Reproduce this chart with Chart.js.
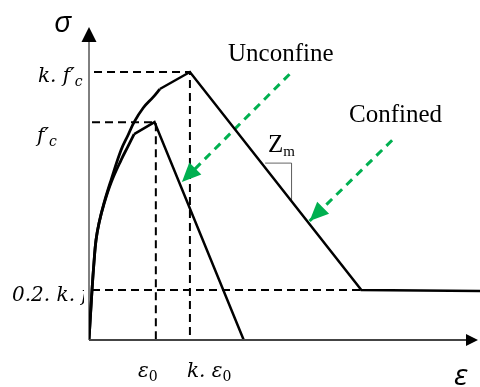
<!DOCTYPE html>
<html>
<head>
<meta charset="utf-8">
<script src="https://cdn.jsdelivr.net/npm/chart.js@4.4.1/dist/chart.umd.min.js"></script>
<style>
  html, body { margin: 0; padding: 0; background: #fff; }
  #wrap { width: 480px; height: 387px; position: relative; }
</style>
</head>
<body>
<div id="wrap"><canvas id="chart"></canvas></div>
<script>
// strain in per mille, stress as a fraction of f'c
const eps0 = 2.0;
const kEps0 = 3.02;
const fc = 1.0;
const kFc = 1.23;
const residual = 0.229;

const confinedRiseX = [0, 0.09, 0.15, 0.21, 0.30, 0.45, 0.66, 0.96, 1.17, 1.35, 1.62, 1.92, 2.12];
const confinedRiseY = [0, 0.229, 0.358, 0.459, 0.537, 0.629, 0.734, 0.872, 0.941, 1.0, 1.065, 1.115, 1.152];
const confinedFallX = [2.12, kEps0, 8.15, 11.7];
const confinedFallY = [1.152, kFc, residual, 0.225];

const unconfinedRiseX = [0, 0.09, 0.15, 0.21, 0.30, 0.45, 0.66, 0.96, 1.17, 1.35];
const unconfinedRiseY = [0, 0.229, 0.358, 0.459, 0.537, 0.625, 0.722, 0.826, 0.890, 0.945];
const unconfinedFallX = [1.35, 1.96, 4.63];
const unconfinedFallY = [0.945, fc, 0];

const unconfArrowX = [6.0, 2.78];
const unconfArrowY = [1.22, 0.725];
const confArrowX = [9.07, 6.6];
const confArrowY = [0.917, 0.546];

const slopeMarkX = [5.27, 6.06, 6.06];
const slopeMarkY = [0.812, 0.812, 0.642];

function pts(xs, ys) {
  return xs.map((x, i) => ({ x: x, y: ys[i] }));
}

function line(data, color, width, dash, extra) {
  return Object.assign({
    data: data,
    borderColor: color,
    borderWidth: width,
    borderDash: dash || [],
    pointRadius: 0,
    fill: false,
    tension: 0,
    showLine: true
  }, extra || {});
}

const green = '#00b050';

const datasets = [
  line([{ x: 0.15, y: kFc }, { x: kEps0, y: kFc }, { x: kEps0, y: 0 }], '#000', 2, [8, 5]),
  line([{ x: 0.09, y: fc }, { x: eps0, y: fc }, { x: eps0, y: 0 }], '#000', 2, [8, 5]),
  line([{ x: 0.09, y: residual }, { x: 8.15, y: residual }], '#000', 2, [8, 5]),
  line(pts(confinedRiseX, confinedRiseY), '#000', 2.8, [], { tension: 0.4 }),
  line(pts(confinedFallX, confinedFallY), '#000', 2.5),
  line(pts(unconfinedRiseX, unconfinedRiseY), '#000', 2.8, [], { tension: 0.4 }),
  line(pts(unconfinedFallX, unconfinedFallY), '#000', 2.5),
  line(pts(slopeMarkX, slopeMarkY), '#666', 1),
  line(pts(unconfArrowX, unconfArrowY), green, 3, [8, 6]),
  line(pts(confArrowX, confArrowY), green, 3, [8, 6])
];

function arrowHead(ctx, x1, y1, x2, y2, len, half, color) {
  const a = Math.atan2(y2 - y1, x2 - x1);
  ctx.save();
  ctx.fillStyle = color;
  ctx.beginPath();
  ctx.moveTo(x2, y2);
  ctx.lineTo(x2 - len * Math.cos(a) + half * Math.sin(a), y2 - len * Math.sin(a) - half * Math.cos(a));
  ctx.lineTo(x2 - len * Math.cos(a) - half * Math.sin(a), y2 - len * Math.sin(a) + half * Math.cos(a));
  ctx.closePath();
  ctx.fill();
  ctx.restore();
}

// base text then a smaller subscript after it
function subText(ctx, base, sub, x, y, font, subFont) {
  ctx.font = font;
  ctx.fillText(base, x, y);
  const w = ctx.measureText(base).width;
  ctx.font = subFont;
  ctx.fillText(sub, x + w, y + 4);
}

const decor = {
  id: 'decor',
  afterDatasetsDraw(chart) {
    const ctx = chart.ctx;
    const xs = chart.scales.x;
    const ys = chart.scales.y;
    const x0 = xs.getPixelForValue(0);
    const y0 = ys.getPixelForValue(0);
    const top = ys.getPixelForValue(ys.max);
    const right = xs.getPixelForValue(xs.max);

    ctx.save();
    // axes
    ctx.strokeStyle = '#000';
    ctx.lineWidth = 1;
    ctx.beginPath();
    ctx.moveTo(x0, y0);
    ctx.lineTo(x0, top);
    ctx.stroke();
    arrowHead(ctx, x0, y0, x0, top - 8, 15, 7.5, '#000');

    ctx.strokeStyle = '#444';
    ctx.lineWidth = 2;
    ctx.beginPath();
    ctx.moveTo(x0, y0);
    ctx.lineTo(right - 10, y0);
    ctx.stroke();
    arrowHead(ctx, x0, y0, right - 2, y0, 12, 6, '#000');

    // green arrow heads
    [[unconfArrowX, unconfArrowY], [confArrowX, confArrowY]].forEach(([ax, ay]) => {
      arrowHead(ctx,
        xs.getPixelForValue(ax[0]), ys.getPixelForValue(ay[0]),
        xs.getPixelForValue(ax[1]), ys.getPixelForValue(ay[1]),
        19, 8.5, green);
    });

    ctx.fillStyle = '#000';
    ctx.textBaseline = 'alphabetic';
    ctx.textAlign = 'left';

    // axis symbols
    ctx.font = "italic 30px 'Open Sans'";
    ctx.fillText('σ', 54, 32);
    ctx.fillText('ε', 454, 385);

    const mf = "italic 20px 'DejaVu Serif'";
    const sf = "italic 14px 'DejaVu Serif'";
    const nf = "14px 'DejaVu Serif'";
    subText(ctx, 'k. f′', 'c', 38, 82, mf, sf);
    subText(ctx, 'f′', 'c', 37, 142, mf, sf);

    ctx.save();
    ctx.beginPath();
    ctx.rect(0, 270, 84, 50);
    ctx.clip();
    ctx.font = mf;
    ctx.fillText('0.2. k. f′', 12, 301);
    ctx.restore();

    subText(ctx, 'ε', '0', 138, 377, mf, nf);
    subText(ctx, 'k. ε', '0', 187, 377, mf, nf);

    ctx.font = "25px 'Liberation Serif'";
    ctx.fillText('Unconfine', 228, 61);
    ctx.fillText('Confined', 349, 122);
    subText(ctx, 'Z', 'm', 268, 152, "25px 'Liberation Serif'", "15px 'Liberation Serif'");
    ctx.restore();
  }
};

new Chart(document.getElementById('chart'), {
  type: 'scatter',
  data: { datasets: datasets },
  options: {
    responsive: true,
    maintainAspectRatio: false,
    animation: false,
    layout: { padding: { left: 89, right: 0, top: 35, bottom: 47 } },
    plugins: { legend: { display: false }, tooltip: { enabled: false } },
    scales: {
      x: { type: 'linear', min: 0, max: 11.7, display: false },
      y: { type: 'linear', min: 0, max: 1.4, display: false }
    }
  },
  plugins: [decor]
});
</script>
</body>
</html>
